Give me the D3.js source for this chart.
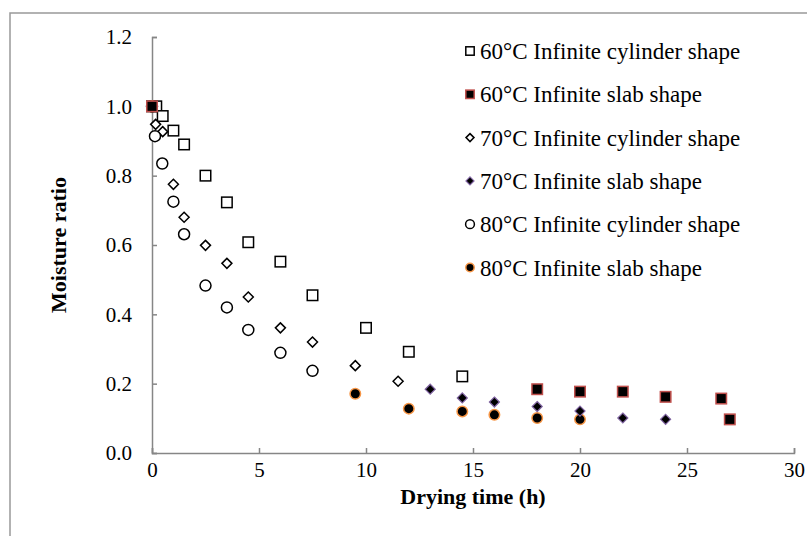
<!DOCTYPE html>
<html><head><meta charset="utf-8">
<script src="https://cdn.jsdelivr.net/npm/d3@7"></script>
<style>html,body{margin:0;padding:0;background:#fff;} svg{display:block;}</style>
</head><body>
<svg id="chart" width="807" height="536"></svg>
<script>
const xTicks = [0,5,10,15,20,25,30];
const yTicks = [0,0.2,0.4,0.6,0.8,1.0,1.2];

const cyl60X = [0,0.2,0.5,1,1.5,2.5,3.5,4.5,6,7.5,10,12,14.5];
const cyl60Y = [1.0,1.0,0.972,0.93,0.89,0.80,0.723,0.608,0.552,0.455,0.361,0.292,0.221];
const slab60X = [0,18,20,22,24,26.6,27];
const slab60Y = [1.0,0.184,0.177,0.177,0.162,0.157,0.097];
const cyl70X = [0,0.17,0.5,1,1.5,2.5,3.5,4.5,6,7.5,9.5,11.5];
const cyl70Y = [1.0,0.948,0.927,0.775,0.68,0.599,0.547,0.45,0.361,0.32,0.252,0.207];
const slab70X = [0,13,14.5,16,18,20,22,24];
const slab70Y = [1.0,0.184,0.159,0.147,0.134,0.121,0.101,0.097];
const cyl80X = [0,0.14,0.48,1,1.5,2.5,3.5,4.5,6,7.5];
const cyl80Y = [1.0,0.914,0.835,0.725,0.631,0.483,0.42,0.355,0.289,0.237];
const slab80X = [0,9.5,12,14.5,16,18,20];
const slab80Y = [1.0,0.171,0.128,0.12,0.11,0.101,0.097];

const seriesNames = ["60°C Infinite cylinder shape","60°C Infinite slab shape","70°C Infinite cylinder shape","70°C Infinite slab shape","80°C Infinite cylinder shape","80°C Infinite slab shape"];

const series = [
  {name:seriesNames[0], xs:cyl60X, ys:cyl60Y, shape:"square", fill:"#fff", stroke:"#000", size:10.5, sw:1.5},
  {name:seriesNames[1], xs:slab60X, ys:slab60Y, shape:"square", fill:"#000", stroke:"#C0504D", size:10.5, sw:1.5},
  {name:seriesNames[2], xs:cyl70X, ys:cyl70Y, shape:"diamond", fill:"#fff", stroke:"#000", size:10, sw:1.5},
  {name:seriesNames[3], xs:slab70X, ys:slab70Y, shape:"diamond", fill:"#000", stroke:"#8064A2", size:10, sw:1.2},
  {name:seriesNames[4], xs:cyl80X, ys:cyl80Y, shape:"circle", fill:"#fff", stroke:"#000", size:11, sw:1.5},
  {name:seriesNames[5], xs:slab80X, ys:slab80Y, shape:"circle", fill:"#000", stroke:"#F79646", size:10.5, sw:1.5}
];
const drawOrder = [0,2,4,5,3,1];

const svg = d3.select("#chart");
const x = d3.scaleLinear().domain([0,30]).range([152,794]);
const y = d3.scaleLinear().domain([0,1.2]).range([453,37]);
const axisColor = "#868686";
const font = "'Liberation Serif','Times New Roman',serif";

// outer border
svg.append("rect").attr("x",10).attr("y",13).attr("width",820).attr("height",560)
  .attr("fill","none").attr("stroke","#999").attr("stroke-width",1.5);

// axes
const xAxis = svg.append("g").attr("transform",`translate(0,${y(0)})`)
  .call(d3.axisBottom(x).tickValues(xTicks).tickSizeInner(-5).tickSizeOuter(-5).tickPadding(9).tickFormat(d3.format("d")));
const yAxis = svg.append("g").attr("transform",`translate(${x(0)},0)`)
  .call(d3.axisLeft(y).tickValues(yTicks).tickSizeInner(-5).tickSizeOuter(-5).tickPadding(20).tickFormat(d3.format(".1f")));
[xAxis,yAxis].forEach(g=>{
  g.selectAll("path,line").attr("stroke",axisColor).attr("stroke-width",1.5);
  g.selectAll("text").attr("font-family",font).attr("font-size",21).attr("fill","#000");
});

svg.append("text").attr("x",473).attr("y",504).attr("text-anchor","middle")
  .attr("font-family",font).attr("font-weight","bold").attr("font-size",22).text("Drying time (h)");
svg.append("text").attr("transform",`translate(66,245) rotate(-90)`).attr("text-anchor","middle")
  .attr("font-family",font).attr("font-weight","bold").attr("font-size",22).text("Moisture ratio");

function marker(g, s, cx, cy, scale){
  const r = s.size/2*(scale||1);
  if(s.shape==="square"){
    g.append("rect").attr("x",cx-r).attr("y",cy-r).attr("width",2*r).attr("height",2*r)
      .attr("fill",s.fill).attr("stroke",s.stroke).attr("stroke-width",s.sw);
  } else if(s.shape==="diamond"){
    g.append("path").attr("d",`M${cx},${cy-r}L${cx+r},${cy}L${cx},${cy+r}L${cx-r},${cy}Z`)
      .attr("fill",s.fill).attr("stroke",s.stroke).attr("stroke-width",s.sw);
  } else {
    g.append("circle").attr("cx",cx).attr("cy",cy).attr("r",r)
      .attr("fill",s.fill).attr("stroke",s.stroke).attr("stroke-width",s.sw);
  }
}

const plot = svg.append("g");
drawOrder.forEach(k=>{
  const s = series[k];
  const g = plot.append("g");
  s.xs.forEach((xv,i)=>marker(g, s, x(xv), y(s.ys[i])));
});

// legend
const leg = svg.append("g");
series.forEach((s,i)=>{
  const cy = 51 + i*43.3;
  marker(leg, s, 470, cy, 0.8);
  leg.append("text").attr("x",480).attr("y",cy).attr("dy","0.35em")
    .attr("font-family",font).attr("font-size",23).attr("fill","#000").text(s.name);
});
</script>
</body></html>
